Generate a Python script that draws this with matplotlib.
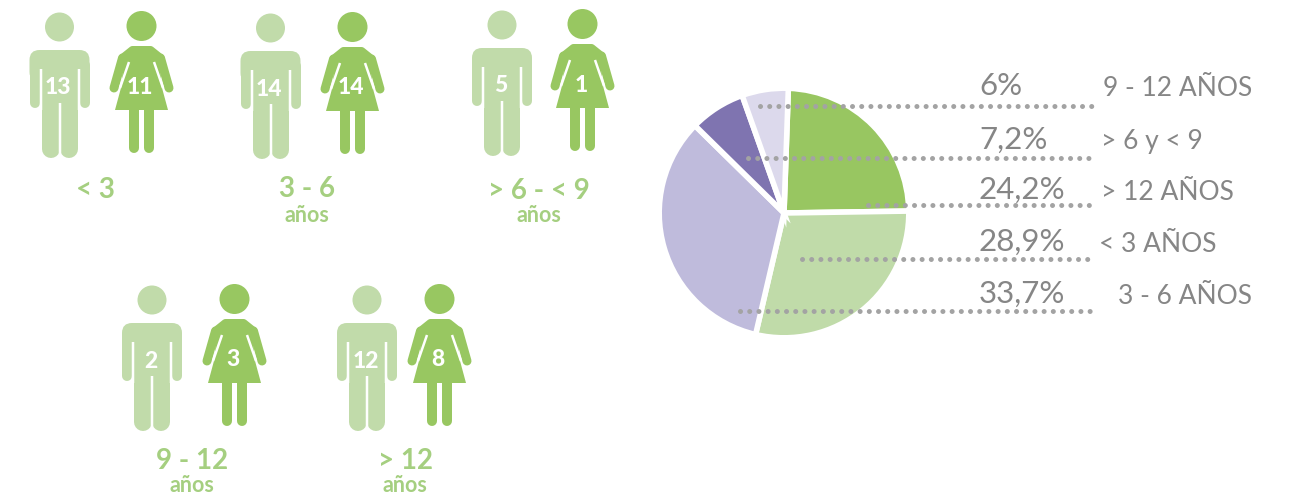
import matplotlib
matplotlib.use('Agg')
import matplotlib.pyplot as plt
from matplotlib.patches import Circle, FancyBboxPatch, Polygon, Rectangle

plt.rcParams['font.family'] = ['Lato', 'DejaVu Sans']

# data
age_groups = ['< 3', '3 - 6', '> 6 - < 9', '9 - 12', '> 12']
group_units = ['', 'años', 'años', 'años', 'años']
men_counts = [13, 14, 5, 2, 12]
women_counts = [11, 14, 1, 3, 8]

pie_values = [24.2, 28.9, 33.7, 7.2, 6]
pct_labels = ['6%', '7,2%', '24,2%', '28,9%', '33,7%']
legend_labels = ['9 - 12 AÑOS', '> 6 y < 9', '> 12 AÑOS', '< 3 AÑOS', '3 - 6 AÑOS']

# colours
MAN = '#C1DBAA'
WOMAN = '#98C761'
LABEL = '#A5CF80'
GREY = '#868686'
DOTS = '#A3A3A3'
pie_colors = ['#98C661', '#C0DBA9', '#BFBBDC', '#7F74B0', '#DCD9EC']

# layout in pixels: man x, man head y, woman x, woman head y, label x, label y, units y
slots = [
    (59.5, 27, 141.5, 26, 95, 190, 216),
    (270.5, 28, 352.5, 27, 307, 189, 216),
    (502, 25, 582.5, 24, 539, 191, 216),
    (152, 300, 234.5, 299, 192, 461, 485),
    (367, 300, 439.5, 299, 405, 461, 485),
]
# line y, line start, line end, percent y, legend x, legend y
line_rows = [
    (106, 760, 1094, 86, 1103, 89),
    (158, 748, 1094, 140, 1101, 141),
    (205, 868, 1094, 190, 1101, 193),
    (259, 802, 1094, 242, 1099, 244),
    (311, 740, 1090, 294, 1118, 296),
]

fig = plt.figure(figsize=(12.95, 4.95), dpi=100)

# pie in its own axes, about 125 px radius with the white edge
ax_pie = fig.add_axes([(784 - 156) / 1295, (495 - 213 - 156) / 495, 312 / 1295, 312 / 495])
ax_pie.pie(pie_values, colors=pie_colors, startangle=88, counterclock=False,
           wedgeprops={'edgecolor': 'white', 'linewidth': 4.0})

# everything else in pixel coordinates
ax = fig.add_axes([0, 0, 1, 1], facecolor='none')
ax.set_xlim(0, 1295)
ax.set_ylim(495, 0)
ax.axis('off')


def px(w):
    return w * 0.72


def draw_man(cx, hy, n):
    top = hy + 23
    ax.add_patch(Circle((cx, hy), 14.5, color=MAN, lw=0))
    ax.add_patch(FancyBboxPatch((cx - 20, top + 10), 40, 12, boxstyle='round,pad=10,rounding_size=10',
                                color=MAN, lw=0))
    ax.add_patch(Rectangle((cx - 18, top + 10), 36, 48, color=MAN, lw=0))
    for s in (-1, 1):
        ax.plot([cx + s * 25, cx + s * 25], [top + 15, top + 53], color=MAN, lw=px(10), solid_capstyle='round')
        ax.plot([cx + s * 9, cx + s * 9], [top + 50, top + 99], color=MAN, lw=px(18), solid_capstyle='round')
        ax.plot([cx + s * 19, cx + s * 19], [top + 19, top + 60], color='white', lw=px(2.5), solid_capstyle='butt')
    ax.plot([cx, cx], [top + 53, top + 110], color='white', lw=px(2.5), solid_capstyle='butt')
    ax.text(cx - 1.5, top + 38, str(n), color='white', fontsize=16.5, fontweight='black', ha='center', va='center')


def draw_woman(cx, hy, n):
    top = hy + 20
    ax.add_patch(Circle((cx, hy), 15, color=WOMAN, lw=0))
    # shoulders, stroked so the corners come out round
    ax.add_patch(Polygon([(cx - 9, top + 4), (cx + 9, top + 4), (cx + 19, top + 12), (cx - 19, top + 12)],
                         closed=True, facecolor=WOMAN, edgecolor=WOMAN, lw=px(8), joinstyle='round'))
    for s in (-1, 1):
        ax.plot([cx + s * 19, cx + s * 27.5], [top + 12, top + 42], color=WOMAN, lw=px(9), solid_capstyle='round')
        ax.plot([cx + s * 7.5, cx + s * 7.5], [top + 60, top + 102], color=WOMAN, lw=px(10), solid_capstyle='round')
    ax.add_patch(Polygon([(cx - 18, top + 10), (cx + 18, top + 10), (cx + 20, top + 40),
                          (cx + 26.5, top + 64), (cx - 26.5, top + 64), (cx - 20, top + 40)],
                         closed=True, color=WOMAN, lw=0))
    for s in (-1, 1):
        ax.plot([cx + s * 12.5, cx + s * 21.5], [top + 16, top + 42], color='white', lw=px(2.5), solid_capstyle='butt')
    ax.text(cx - 1.5, top + 41, str(n), color='white', fontsize=16.5, fontweight='black', ha='center', va='center')


for i, slot in enumerate(slots):
    mx, my, wx, wy, lx, ly, uy = slot
    draw_man(mx, my, men_counts[i])
    draw_woman(wx, wy, women_counts[i])
    ax.text(lx, ly, age_groups[i], color=LABEL, fontsize=20, fontweight='bold', ha='center', va='center')
    if group_units[i]:
        ax.text(lx, uy, group_units[i], color=LABEL, fontsize=15.5, fontweight='bold', ha='center', va='center')

# dotted leader lines and their labels
for i, row in enumerate(line_rows):
    y, x0, x1, py, tx, ty = row
    ax.plot([x0, x1], [y, y], color=DOTS, lw=px(5), dash_capstyle='round', linestyle=(0, (0.01, 1.83)))
    ax.text(979, py, pct_labels[i], color=GREY, fontsize=22.5, ha='left', va='center')
    ax.text(tx, ty, legend_labels[i], color=GREY, fontsize=19, ha='left', va='center')

fig.savefig('out.png', dpi=100)
